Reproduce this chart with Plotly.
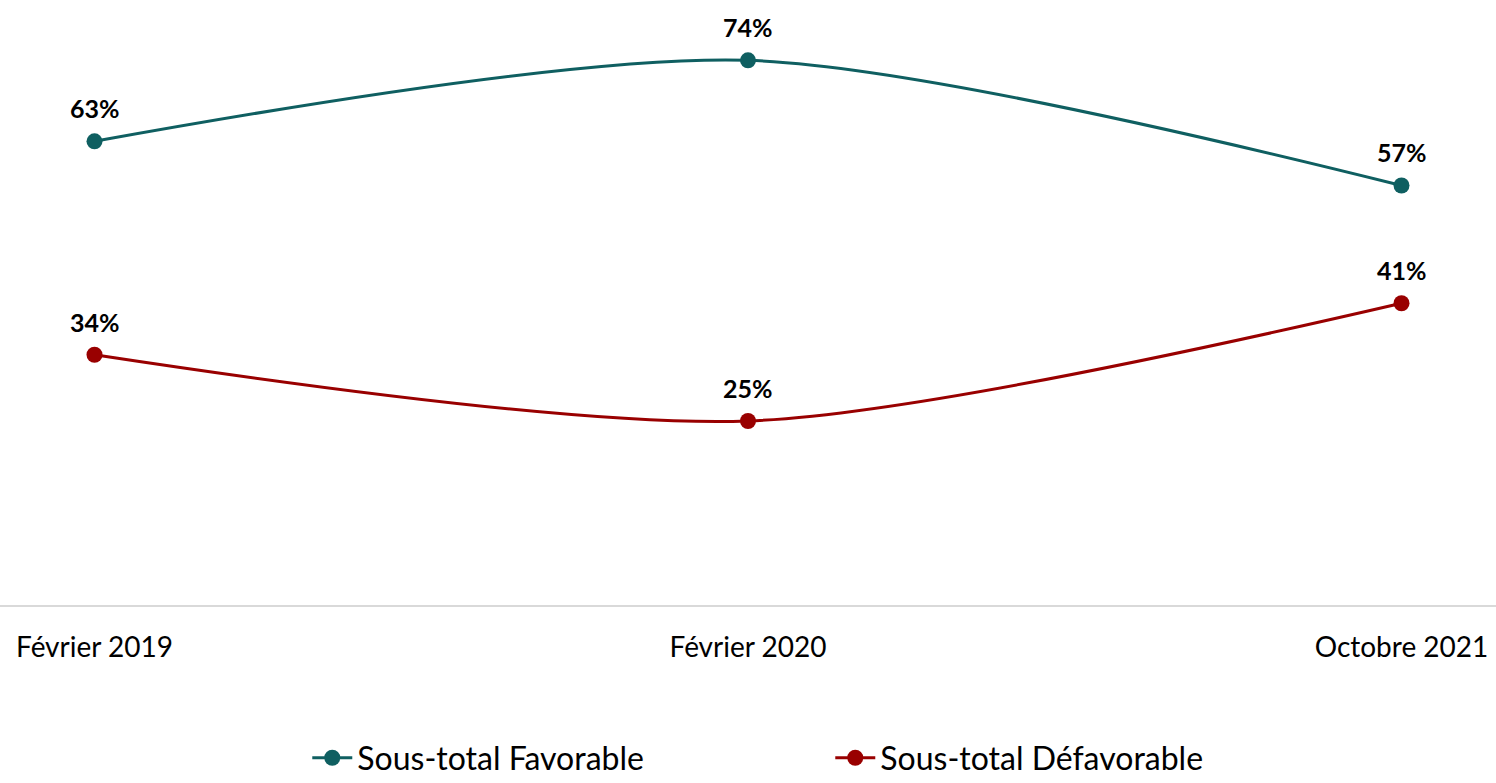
import plotly.graph_objects as go

categories = ["Février 2019", "Février 2020", "Octobre 2021"]
favorable = [63, 74, 57]
defavorable = [34, 25, 41]
series_names = ["Sous-total Favorable", "Sous-total Défavorable"]
colors = ["#0F5F61", "#990000"]

fig = go.Figure()
for name, vals, col in zip(series_names, [favorable, defavorable], colors):
    fig.add_trace(go.Scatter(
        x=categories, y=vals, name=name, mode="lines+markers",
        line=dict(color=col, width=3, shape="spline", smoothing=0.8),
        marker=dict(color=col, size=16),
    ))
    for c, v in zip(categories, vals):
        fig.add_annotation(x=c, y=v, text=f"<b>{v}%</b>", showarrow=False,
                           yshift=33, font=dict(size=25, color="#000000", family="Lato"))

fig.update_layout(
    width=1496, height=783,
    margin=dict(l=0, r=0, t=0, b=178, autoexpand=False),
    paper_bgcolor="white", plot_bgcolor="white",
    font=dict(family="Lato", color="#000000"),
    xaxis=dict(type="category", range=[-0.1446, 2.1446], showgrid=False,
               showline=True, linecolor="#D9D9D9", linewidth=2,
               ticks="", tickfont=dict(size=28, family="Lato"), ticklabelstandoff=16),
    yaxis=dict(range=[0, 82.2], visible=False, showgrid=False, zeroline=False),
    legend=dict(orientation="h", xanchor="center", x=0.555, yanchor="middle",
                yref="container", y=0.032,
                font=dict(size=32, family="Lato"), itemwidth=40, entrywidth=468,
                traceorder="normal"),
    showlegend=True,
)

fig.write_html("out.html")
